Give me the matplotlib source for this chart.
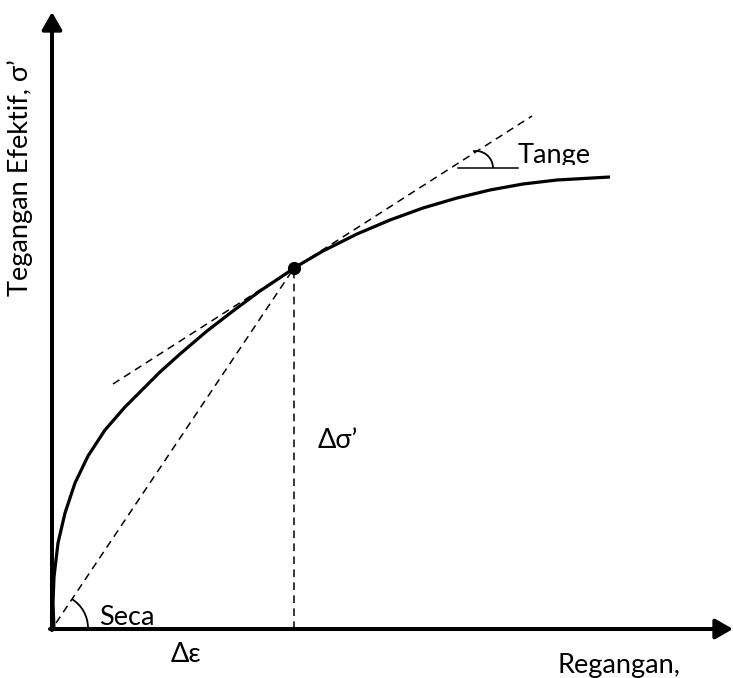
import matplotlib.pyplot as plt
from matplotlib.patches import Arc, Rectangle

plt.rcParams['font.family'] = ['Lato', 'DejaVu Sans']

# kurva tegangan-regangan
eps = [2, 1, 2, 6, 13, 23, 36, 53, 73, 93, 108, 128, 155, 181, 208, 235, 242,
       271, 305, 338, 371, 405, 438, 471, 505, 558]
sig = [0, 26, 52, 86, 116, 146, 173, 199, 222, 242, 257, 275, 298, 318, 338, 356, 361,
       378, 395, 409, 421, 431, 439, 445, 449, 452]

# titik yang ditinjau
p_eps, p_sig = 242, 361

# garis singgung (ujung kiri dan kanan)
tan_eps = [61, 480]
tan_sig = [245, 513]

fig = plt.figure(figsize=(7.33, 6.78), dpi=100)
ax = fig.add_axes([0, 0, 1, 1])
ax.set_xlim(-52, 681)
ax.set_ylim(-49, 629)
ax.axis('off')

# sumbu dengan panah
arrow = dict(arrowstyle='-|>,head_length=0.7,head_width=0.4', lw=2.9,
             color='k', mutation_scale=15, shrinkA=0, shrinkB=0)
ax.annotate('', xy=(0, 617), xytext=(0, -1), arrowprops=arrow)
ax.annotate('', xy=(681, 0), xytext=(-2, 0), arrowprops=arrow)

# kurva
ax.plot(eps, sig, color='k', lw=2.3, solid_capstyle='butt', solid_joinstyle='round')

# garis putus-putus
dash = dict(color='k', lw=1.1, dashes=(5, 3.5))
ax.plot(tan_eps, tan_sig, **dash)
ax.plot([4, p_eps], [6, p_sig], **dash)
ax.plot([p_eps, p_eps], [0, p_sig], **dash)

ax.plot(p_eps, p_sig, 'o', color='k', ms=8.5)

# busur sudut
ax.add_patch(Arc((2, 1), 68, 68, theta1=0, theta2=58, color='k', lw=1.3))
ax.add_patch(Arc((424, 461), 34, 34, theta1=0, theta2=100, color='k', lw=1.3))
ax.plot([406, 466], [461, 461], color='k', lw=1.1)

fs = 19.5
ax.text(47, 4, 'Seca', fontsize=fs, va='baseline')
t = ax.text(466, 466, 'Tange', fontsize=fs, va='baseline', clip_on=True)
clip = Rectangle((460, 464), 200, 60, transform=ax.transData)
t.set_clip_path(clip)
ax.text(134, -25, 'Δε', fontsize=fs, ha='center', va='center')
ax.text(286, 188, 'Δσ’', fontsize=fs, ha='center', va='center')
ax.text(505, -24, 'Regangan,', fontsize=fs, va='top')
ax.text(-32, 451, 'Tegangan Efektif, σ’', fontsize=fs, rotation=90,
        ha='center', va='center')

plt.savefig('out.png', dpi=100)
